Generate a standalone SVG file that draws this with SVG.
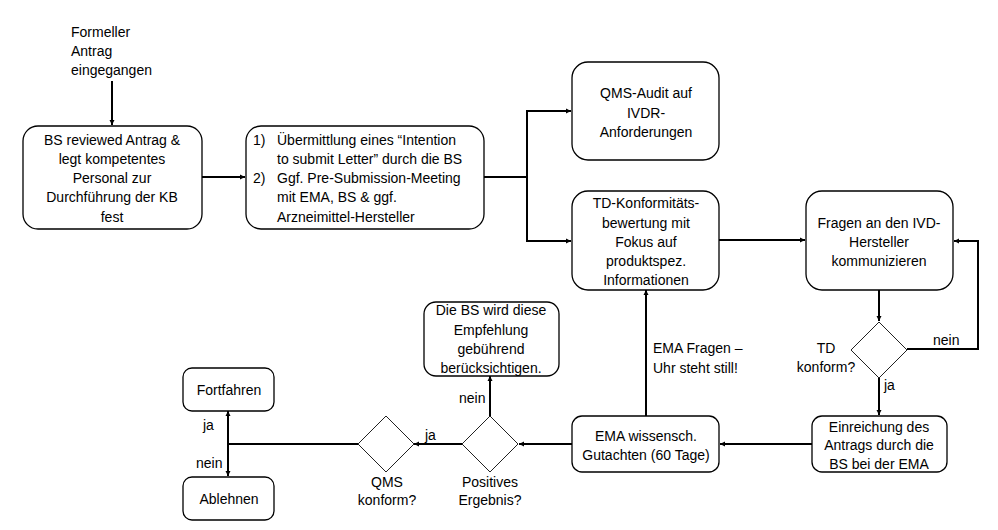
<svg xmlns="http://www.w3.org/2000/svg" width="998" height="530" viewBox="0 0 998 530">
<defs>
<marker id="arr" markerUnits="userSpaceOnUse" markerWidth="6" markerHeight="6" refX="5" refY="3" orient="auto">
<path d="M0,0.5 L5,3 L0,5.5 z" fill="#000"/>
</marker>
<style>
text{font-family:"Liberation Sans",Arial,sans-serif;font-size:14px;fill:#000}
.c{text-anchor:middle}
.box{fill:#fff;stroke:#000;stroke-width:1.3}
.dia{fill:#fff;stroke:#222;stroke-width:1}
.ln{fill:none;stroke:#000;stroke-width:2}
.ar{fill:none;stroke:#000;stroke-width:2;marker-end:url(#arr)}
</style>
</defs>
<rect width="998" height="530" fill="#fff"/>

<g id="connectors">
<path class="ar" d="M112,81 V125"/>
<path class="ar" d="M202,177 H245"/>
<path class="ln" d="M484,177 H527"/>
<path class="ar" d="M527,177 V111 H571"/>
<path class="ar" d="M527,177 V241 H571"/>
<path class="ar" d="M719,240 H805"/>
<path class="ar" d="M879,290 V321"/>
<path class="ar" d="M907,349 H978 V241 H954"/>
<path class="ar" d="M879,378 V415"/>
<path class="ar" d="M812,444 H720"/>
<path class="ar" d="M646,416 V290"/>
<path class="ar" d="M572,444 H519"/>
<path class="ar" d="M490,416 V376"/>
<path class="ar" d="M463,444 H414"/>
<path class="ln" d="M359,444 H228"/>
<path class="ar" d="M228,444 V411"/>
<path class="ar" d="M228,444 V476"/>
</g>

<g id="start">
<text x="71" y="37">Formeller</text>
<text x="71" y="56">Antrag</text>
<text x="71" y="75">eingegangen</text>
</g>

<g id="n1">
<rect class="box" x="23" y="126" width="179" height="103" rx="15"/>
<text class="c" x="112" y="145">BS reviewed Antrag &amp;</text>
<text class="c" x="112" y="164">legt kompetentes</text>
<text class="c" x="112" y="183">Personal zur</text>
<text class="c" x="112" y="202">Durchführung der KB</text>
<text class="c" x="112" y="222">fest</text>
</g>

<g id="n2">
<rect class="box" x="246" y="126" width="238" height="103" rx="15"/>
<text x="253" y="145">1)</text>
<text x="277" y="145">Übermittlung eines “Intention</text>
<text x="277" y="164">to submit Letter” durch die BS</text>
<text x="253" y="183">2)</text>
<text x="277" y="183">Ggf. Pre-Submission-Meeting</text>
<text x="277" y="202">mit EMA, BS &amp; ggf.</text>
<text x="277" y="222">Arzneimittel-Hersteller</text>
</g>

<g id="qms">
<rect class="box" x="572" y="62" width="147" height="98" rx="16"/>
<text class="c" x="646" y="98">QMS-Audit auf</text>
<text class="c" x="646" y="118">IVDR-</text>
<text class="c" x="646" y="137">Anforderungen</text>
</g>

<g id="td">
<rect class="box" x="572" y="191" width="147" height="99" rx="16"/>
<text class="c" x="646" y="208">TD-Konformitäts-</text>
<text class="c" x="646" y="228">bewertung mit</text>
<text class="c" x="646" y="247">Fokus auf</text>
<text class="c" x="646" y="266">produktspez.</text>
<text class="c" x="646" y="285">Informationen</text>
</g>

<g id="fragen">
<rect class="box" x="806" y="191" width="147" height="99" rx="16"/>
<text class="c" x="879" y="228">Fragen an den IVD-</text>
<text class="c" x="879" y="247">Hersteller</text>
<text class="c" x="879" y="266">kommunizieren</text>
</g>

<g id="tdkonform">
<polygon class="dia" points="879,322 907,350 879,378 851,350"/>
<text class="c" x="826" y="353">TD</text>
<text class="c" x="826" y="372">konform?</text>
<text x="933" y="345">nein</text>
<text x="884" y="390">ja</text>
</g>

<g id="einreichung">
<rect class="box" x="812" y="416" width="135" height="56" rx="10"/>
<text class="c" x="879" y="432">Einreichung des</text>
<text class="c" x="879" y="450">Antrags durch die</text>
<text class="c" x="879" y="469">BS bei der EMA</text>
</g>

<g id="ema">
<rect class="box" x="572" y="416" width="147" height="56" rx="10"/>
<text class="c" x="646" y="441">EMA wissensch.</text>
<text class="c" x="646" y="460">Gutachten (60 Tage)</text>
<text x="653" y="353">EMA Fragen –</text>
<text x="653" y="373">Uhr steht still!</text>
</g>

<g id="positiv">
<polygon class="dia" points="490,416 518,444 490,472 462,444"/>
<text class="c" x="490" y="487">Positives</text>
<text class="c" x="490" y="505">Ergebnis?</text>
<text x="459" y="403">nein</text>
<text x="425" y="440">ja</text>
</g>

<g id="empfehlung">
<rect class="box" x="424" y="302" width="135" height="74" rx="12"/>
<text class="c" x="491" y="315">Die BS wird diese</text>
<text class="c" x="491" y="335">Empfehlung</text>
<text class="c" x="491" y="354">gebührend</text>
<text class="c" x="491" y="373">berücksichtigen.</text>
</g>

<g id="qmskonform">
<polygon class="dia" points="386,416 414,444 386,472 358,444"/>
<text class="c" x="387" y="487">QMS</text>
<text class="c" x="387" y="505">konform?</text>
</g>

<g id="fortfahren">
<rect class="box" x="183" y="368" width="91" height="43" rx="9"/>
<text class="c" x="229" y="395">Fortfahren</text>
<text x="203" y="430">ja</text>
</g>

<g id="ablehnen">
<rect class="box" x="183" y="477" width="91" height="43" rx="9"/>
<text class="c" x="229" y="504">Ablehnen</text>
<text x="196" y="468">nein</text>
</g>
</svg>
